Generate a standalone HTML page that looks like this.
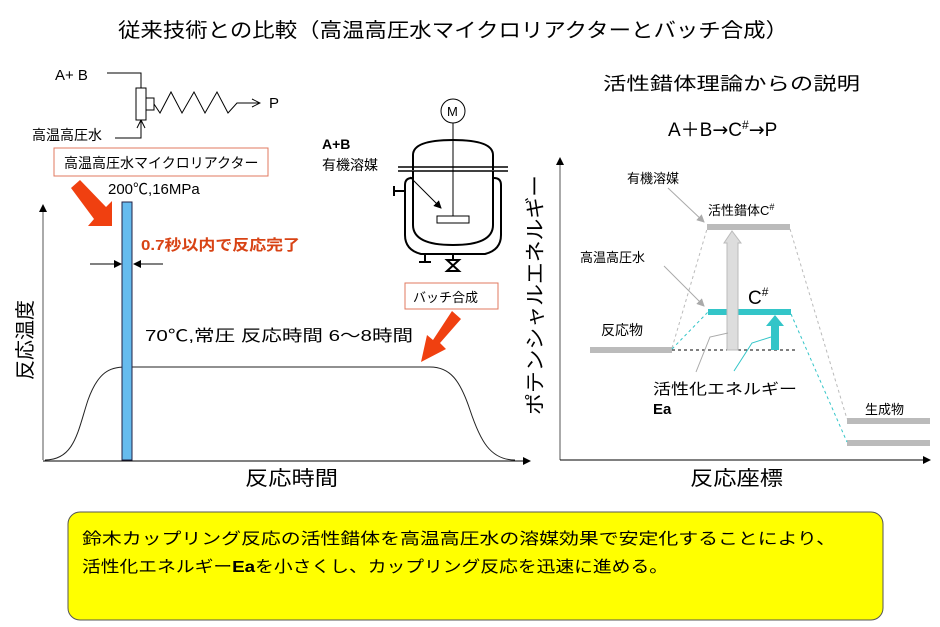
<!DOCTYPE html>
<html><head><meta charset="utf-8"><style>
body{margin:0;background:#fff;width:940px;height:622px;overflow:hidden}
svg text{font-family:"Liberation Sans","Noto Sans CJK JP",sans-serif}
</style></head><body>
<svg width="940" height="622" viewBox="0 0 940 622" xmlns="http://www.w3.org/2000/svg">
<defs>
<marker id="ah" markerWidth="8" markerHeight="8" refX="7" refY="4" orient="auto" markerUnits="userSpaceOnUse"><path d="M0,0 L8,4 L0,8 Z" fill="#000"/></marker>
<marker id="oa" markerWidth="10" markerHeight="10" refX="9" refY="5" orient="auto" markerUnits="userSpaceOnUse"><path d="M1,1 L9,5 L1,9" fill="none" stroke="#000"/></marker>
<marker id="ga" markerWidth="8" markerHeight="8" refX="7" refY="4" orient="auto" markerUnits="userSpaceOnUse"><path d="M0,0 L8,4 L0,8 Z" fill="#aaa"/></marker>
</defs>
<text x="118" y="37" font-size="20" textLength="670" lengthAdjust="spacingAndGlyphs">従来技術との比較（高温高圧水マイクロリアクターとバッチ合成）</text>

<text x="55" y="80" font-size="15">A+ B</text>
<polyline points="107,73 141,73 141,98" fill="none" stroke="#000" marker-end="url(#oa)"/>
<text x="32" y="140" font-size="14">高温高圧水</text>
<polyline points="115,138 141,138 141,120" fill="none" stroke="#000" marker-end="url(#oa)"/>
<rect x="136" y="88" width="10" height="32" fill="#fff" stroke="#000"/>
<rect x="146" y="98" width="8" height="12" fill="#fff" stroke="#000"/>
<polyline points="154,104 160,113 171,92 182,113 194,92 205,113 217,92 228,113 237,103 260,103" fill="none" stroke="#000" marker-end="url(#oa)"/>
<text x="269" y="108" font-size="15">P</text>
<rect x="54" y="148" width="214" height="28" fill="#fff" stroke="#e07a5f"/>
<text x="64" y="168" font-size="14">高温高圧水マイクロリアクター</text>
<text x="108" y="194" font-size="15">200℃,16MPa</text>
<polygon points="71,188 80,180 106,207 112,201 112,226 88,226 94,219" fill="#f04010"/>

<line x1="43" y1="460" x2="43" y2="205" stroke="#555" marker-end="url(#ah)"/>
<line x1="43" y1="461" x2="530" y2="461" stroke="#000" marker-end="url(#ah)"/>
<path d="M45,460 C75,460 78,430 88,400 C98,372 110,367 125,367 L430,367 C450,367 460,380 470,410 C480,440 490,460 515,460" fill="none" stroke="#222"/>
<rect x="122" y="202" width="10" height="258" fill="#66bbee" stroke="#224"/>
<line x1="90" y1="264" x2="121" y2="264" stroke="#000" marker-end="url(#ah)"/>
<line x1="163" y1="264" x2="134" y2="264" stroke="#000" marker-end="url(#ah)"/>
<text x="141" y="250" font-size="15" font-weight="bold" fill="#d84315" textLength="159" lengthAdjust="spacingAndGlyphs">0.7秒以内で反応完了</text>
<text x="145" y="341" font-size="16" textLength="268" lengthAdjust="spacingAndGlyphs">70℃,常圧  反応時間  6～8時間</text>
<text font-size="20" transform="translate(32,380) rotate(-90)" textLength="80" lengthAdjust="spacingAndGlyphs">反応温度</text>
<text x="245" y="485" font-size="20" textLength="93" lengthAdjust="spacingAndGlyphs">反応時間</text>
<rect x="405" y="283" width="93" height="26" fill="#fff" stroke="#e07a5f"/>
<text x="413" y="302" font-size="13">バッチ合成</text>
<polygon points="452,311 461,319 440,343 446,349 421,362 427,335 433,340" fill="#f04010"/>

<circle cx="453" cy="111" r="12" fill="#fff" stroke="#000"/>
<text x="447" y="116" font-size="13">M</text>
<line x1="453" y1="123" x2="453" y2="220" stroke="#000"/>
<path d="M413,170 L413,155 Q413,140 453,140 Q493,140 493,155 L493,170" fill="none" stroke="#000" stroke-width="2"/>
<line x1="398" y1="167" x2="508" y2="167" stroke="#000" stroke-width="1.5"/>
<line x1="398" y1="171" x2="508" y2="171" stroke="#000" stroke-width="1.5"/>
<path d="M413,171 L413,225 Q413,245 453,245 Q493,245 493,225 L493,171" fill="none" stroke="#000" stroke-width="2"/>
<path d="M405,185 Q405,178 412,178 M494,178 Q501,178 501,185 L501,235 Q501,250 485,254 L421,254 Q405,250 405,235 L405,185" fill="none" stroke="#000" stroke-width="2"/>
<line x1="394" y1="191" x2="404" y2="191" stroke="#000" stroke-width="2"/><line x1="394" y1="186" x2="394" y2="196" stroke="#000" stroke-width="2"/>
<rect x="437" y="216" width="32" height="7" fill="#fff" stroke="#000"/>
<line x1="410" y1="177" x2="441" y2="208" stroke="#000" marker-end="url(#ah)"/>
<line x1="425" y1="254" x2="425" y2="262" stroke="#000" stroke-width="2"/><line x1="419" y1="262" x2="431" y2="262" stroke="#000" stroke-width="2"/>
<line x1="453" y1="254" x2="453" y2="260" stroke="#000" stroke-width="2"/>
<path d="M447,260 L459,260 L447,271 L459,271 Z" fill="none" stroke="#000" stroke-width="2"/>
<text x="322" y="149" font-size="14" font-weight="bold">A+B</text>
<text x="322" y="170" font-size="14">有機溶媒</text>

<text x="603" y="90" font-size="18" textLength="257" lengthAdjust="spacingAndGlyphs">活性錯体理論からの説明</text>
<text x="668" y="136" font-size="19">A＋B<tspan font-family="DejaVu Sans">→</tspan>C<tspan font-size="12" dy="-7">#</tspan><tspan dy="7" font-family="DejaVu Sans">→</tspan>P</text>
<line x1="560" y1="460" x2="560" y2="158" stroke="#555" marker-end="url(#ah)"/>
<line x1="560" y1="460" x2="930" y2="460" stroke="#000" marker-end="url(#ah)"/>
<text font-size="20" transform="translate(542,415) rotate(-90)" textLength="240" lengthAdjust="spacingAndGlyphs">ポテンシャルエネルギー</text>
<text x="690" y="485" font-size="20" textLength="93" lengthAdjust="spacingAndGlyphs">反応座標</text>
<rect x="590" y="347" width="82" height="6" fill="#bbb"/>
<rect x="707" y="224" width="83" height="6" fill="#bbb"/>
<rect x="708" y="309" width="83" height="6" fill="#33c5c8"/>
<rect x="847" y="418" width="83" height="6" fill="#bbb"/>
<rect x="847" y="440" width="83" height="6" fill="#bbb"/>
<line x1="672" y1="350" x2="795" y2="350" stroke="#000" stroke-dasharray="3,3"/>
<line x1="672" y1="348" x2="707" y2="229" stroke="#bbb" stroke-dasharray="3,3"/>
<line x1="790" y1="229" x2="847" y2="419" stroke="#bbb" stroke-dasharray="3,3"/>
<line x1="672" y1="349" x2="708" y2="312" stroke="#33c5c8" stroke-dasharray="3,3"/>
<line x1="791" y1="314" x2="847" y2="442" stroke="#33c5c8" stroke-dasharray="3,3"/>
<polygon points="727,350 738,350 738,243 741,243 732,231 724,243 727,243" fill="#ddd" stroke="#bbb"/>
<polygon points="771,350 779,350 779,326 784,326 775,315 766,326 771,326" fill="#33c5c8"/>
<text x="627" y="183" font-size="13">有機溶媒</text>
<line x1="668" y1="188" x2="704" y2="222" stroke="#aaa" marker-end="url(#ga)"/>
<text x="708" y="215" font-size="13">活性錯体C<tspan font-size="9" dy="-5">#</tspan></text>
<text x="580" y="262" font-size="13">高温高圧水</text>
<line x1="664" y1="266" x2="704" y2="306" stroke="#aaa" marker-end="url(#ga)"/>
<text x="748" y="304" font-size="19">C<tspan font-size="12" dy="-8">#</tspan></text>
<text x="601" y="335" font-size="14">反応物</text>
<text x="865" y="414" font-size="13">生成物</text>
<polyline points="696,372 710,337 728,333" fill="none" stroke="#aaa"/>
<polyline points="734,371 752,343 771,337" fill="none" stroke="#33c5c8"/>
<text x="653" y="394" font-size="15" textLength="144" lengthAdjust="spacingAndGlyphs">活性化エネルギー</text>
<text x="653" y="414" font-size="15" font-weight="bold">Ea</text>

<rect x="68" y="512" width="815" height="108" rx="12" fill="#ffff00" stroke="#555"/>
<text x="82" y="544" font-size="16" textLength="754" lengthAdjust="spacingAndGlyphs">鈴木カップリング反応の活性錯体を高温高圧水の溶媒効果で安定化することにより、</text>
<text x="82" y="572" font-size="16" textLength="586" lengthAdjust="spacingAndGlyphs">活性化エネルギー<tspan font-weight="bold">Ea</tspan>を小さくし、カップリング反応を迅速に進める。</text>
</svg>
</body></html>
